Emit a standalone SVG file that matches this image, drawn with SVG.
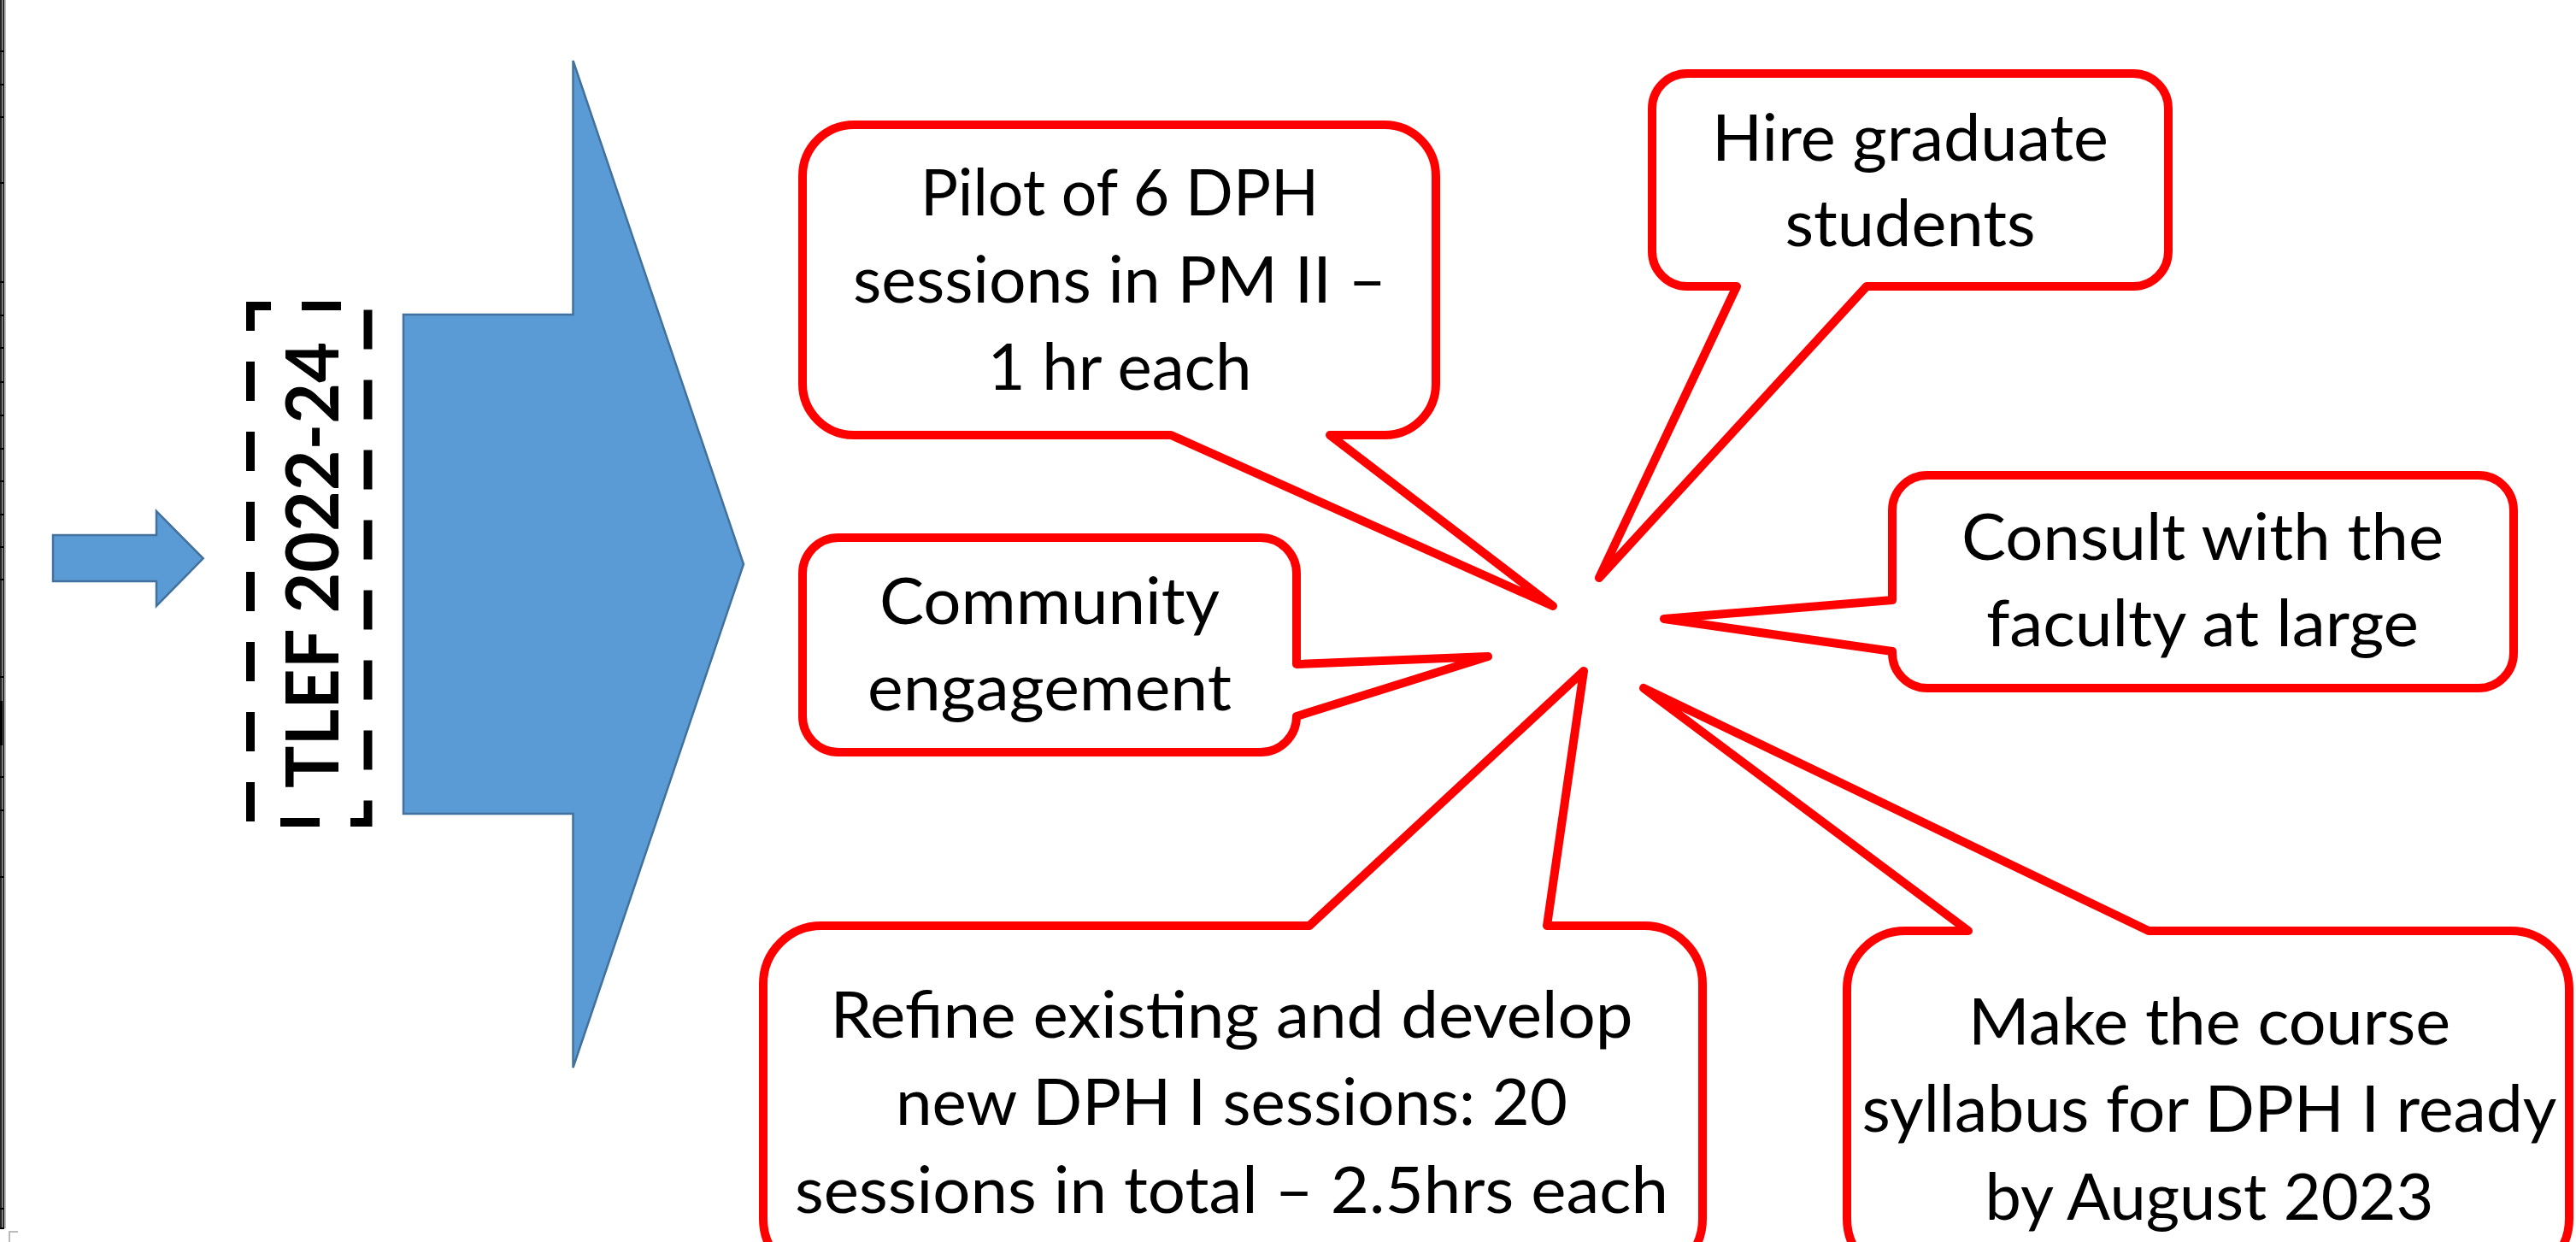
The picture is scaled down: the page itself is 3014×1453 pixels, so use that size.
<svg xmlns="http://www.w3.org/2000/svg" width="3014" height="1453" viewBox="0 0 3014 1453">
<style>
.arrow{fill:#5B9BD5;stroke:#41719C;stroke-width:2.5;stroke-linejoin:miter}
.callout{fill:#FFFFFF;stroke:#FF0000;stroke-width:10;stroke-linejoin:round}
.lbl{font-family:Lato,"Open Sans","Liberation Sans",sans-serif;font-size:76px;fill:#000000;text-anchor:middle}
.title{font-family:Lato,"Open Sans","Liberation Sans",sans-serif;font-weight:bold;font-size:86px;fill:#000000;text-anchor:middle}
.tick{stroke:#000000;stroke-width:2}
</style>
<rect x="0" y="0" width="3014" height="1453" fill="#FFFFFF"/>
<g id="ruler">
  <rect x="0" y="0" width="5" height="1437" fill="#8A8A8A"/>
  <line x1="1" y1="0" x2="1" y2="1437" stroke="#000" stroke-width="1.5"/>
  <line x1="4.5" y1="0" x2="4.5" y2="1437" stroke="#000" stroke-width="1.5"/>
  <line x1="6.5" y1="0" x2="6.5" y2="1437" stroke="#BBBBBB" stroke-width="1"/>
  <g class="tick">
    <line x1="0" y1="60" x2="5" y2="60"/><line x1="0" y1="99" x2="5" y2="99"/><line x1="0" y1="137" x2="5" y2="137"/>
    <line x1="0" y1="214" x2="5" y2="214"/><line x1="0" y1="330" x2="5" y2="330"/><line x1="0" y1="369" x2="5" y2="369"/>
    <line x1="0" y1="407" x2="5" y2="407"/><line x1="0" y1="447" x2="5" y2="447"/><line x1="0" y1="486" x2="5" y2="486"/>
    <line x1="0" y1="525" x2="5" y2="525"/><line x1="0" y1="563" x2="5" y2="563"/><line x1="0" y1="602" x2="5" y2="602"/>
    <line x1="0" y1="640" x2="5" y2="640"/><line x1="0" y1="678" x2="5" y2="678"/><line x1="0" y1="792" x2="5" y2="792"/>
    <line x1="0" y1="909" x2="5" y2="909"/><line x1="0" y1="948" x2="5" y2="948"/><line x1="0" y1="1026" x2="5" y2="1026"/>
    <line x1="0" y1="1414" x2="5" y2="1414"/><line x1="0" y1="1437" x2="5" y2="1437"/>
  </g>
  <rect x="0" y="820" width="3" height="52" fill="#000"/>
  <path d="M11,1453 V1441 H21" fill="none" stroke="#BBBBBB" stroke-width="2"/>
</g>
<g id="small-arrow">
  <polygon class="arrow" points="62,626 183,626 183,598 237.7,653.3 183,709 183,680 62,680"/>
</g>
<g id="tlef">
  <path d="M293,380 V358 H430.5 V962 H293 Z" fill="none" stroke="#000" stroke-width="10" stroke-dasharray="46 36"/>
  <text class="title" transform="translate(396,661) rotate(-90)" textLength="522" lengthAdjust="spacingAndGlyphs">TLEF 2022-24</text>
</g>
<g id="big-arrow">
  <polygon class="arrow" points="472,368 670.5,368 670.5,71 870,660 670.5,1249 670.5,952 472,952"/>
</g>
<g id="connectors"></g>
<g id="pilot">
  <path class="callout" d="M999,146 H1620 A60,60 0 0 1 1680,206 V449 A60,60 0 0 1 1620,509 H1556 L1817,709 L1370,509 H999 A60,60 0 0 1 939,449 V206 A60,60 0 0 1 999,146 Z"/>
  <text class="lbl" x="1310" y="252" textLength="466" lengthAdjust="spacingAndGlyphs">Pilot of 6 DPH</text>
  <text class="lbl" x="1310" y="354" textLength="624" lengthAdjust="spacingAndGlyphs">sessions in PM II –</text>
  <text class="lbl" x="1310" y="456" textLength="309" lengthAdjust="spacingAndGlyphs">1 hr each</text>
</g>
<g id="hire">
  <path class="callout" d="M1974,86 H2496 A41,41 0 0 1 2537,127 V294 A41,41 0 0 1 2496,335 H2184 L1871,676 L2032,335 H1974 A41,41 0 0 1 1933,294 V127 A41,41 0 0 1 1974,86 Z"/>
  <text class="lbl" x="2235" y="188" textLength="464" lengthAdjust="spacingAndGlyphs">Hire graduate</text>
  <text class="lbl" x="2235" y="288" textLength="293" lengthAdjust="spacingAndGlyphs">students</text>
</g>
<g id="consult">
  <path class="callout" d="M2255,556 H2900 A41,41 0 0 1 2941,597 V764 A41,41 0 0 1 2900,805 H2255 A41,41 0 0 1 2214,764 V762 L1947,724 L2214,702 V597 A41,41 0 0 1 2255,556 Z"/>
  <text class="lbl" x="2577" y="655" textLength="564" lengthAdjust="spacingAndGlyphs">Consult with the</text>
  <text class="lbl" x="2577" y="756" textLength="506" lengthAdjust="spacingAndGlyphs">faculty at large</text>
</g>
<g id="community">
  <path class="callout" d="M981,629 H1475 A42,42 0 0 1 1517,671 V777 L1741,768 L1517,838 A42,42 0 0 1 1475,880 H981 A42,42 0 0 1 939,838 V671 A42,42 0 0 1 981,629 Z"/>
  <text class="lbl" x="1228" y="730" textLength="398" lengthAdjust="spacingAndGlyphs">Community</text>
  <text class="lbl" x="1228" y="831" textLength="426" lengthAdjust="spacingAndGlyphs">engagement</text>
</g>
<g id="refine">
  <path class="callout" d="M961,1083 H1532 L1853,785 L1810,1083 H1924 A68,68 0 0 1 1992,1151 V1426 A68,68 0 0 1 1924,1494 H961 A68,68 0 0 1 893,1426 V1151 A68,68 0 0 1 961,1083 Z"/>
  <text class="lbl" x="1441" y="1214" textLength="939" lengthAdjust="spacingAndGlyphs">Refine existing and develop</text>
  <text class="lbl" x="1441" y="1316" textLength="786" lengthAdjust="spacingAndGlyphs">new DPH I sessions: 20</text>
  <text class="lbl" x="1441" y="1419" textLength="1022" lengthAdjust="spacingAndGlyphs">sessions in total – 2.5hrs each</text>
</g>
<g id="make">
  <path class="callout" d="M2229,1089 H2303 L1923,805 L2514,1089 H2938 A68,68 0 0 1 3006,1157 V1426 A68,68 0 0 1 2938,1494 H2229 A68,68 0 0 1 2161,1426 V1157 A68,68 0 0 1 2229,1089 Z"/>
  <text class="lbl" x="2585" y="1222" textLength="564" lengthAdjust="spacingAndGlyphs">Make the course</text>
  <text class="lbl" x="2585" y="1324" textLength="813" lengthAdjust="spacingAndGlyphs">syllabus for DPH I ready</text>
  <text class="lbl" x="2585" y="1427" textLength="525" lengthAdjust="spacingAndGlyphs">by August 2023</text>
</g>
</svg>
